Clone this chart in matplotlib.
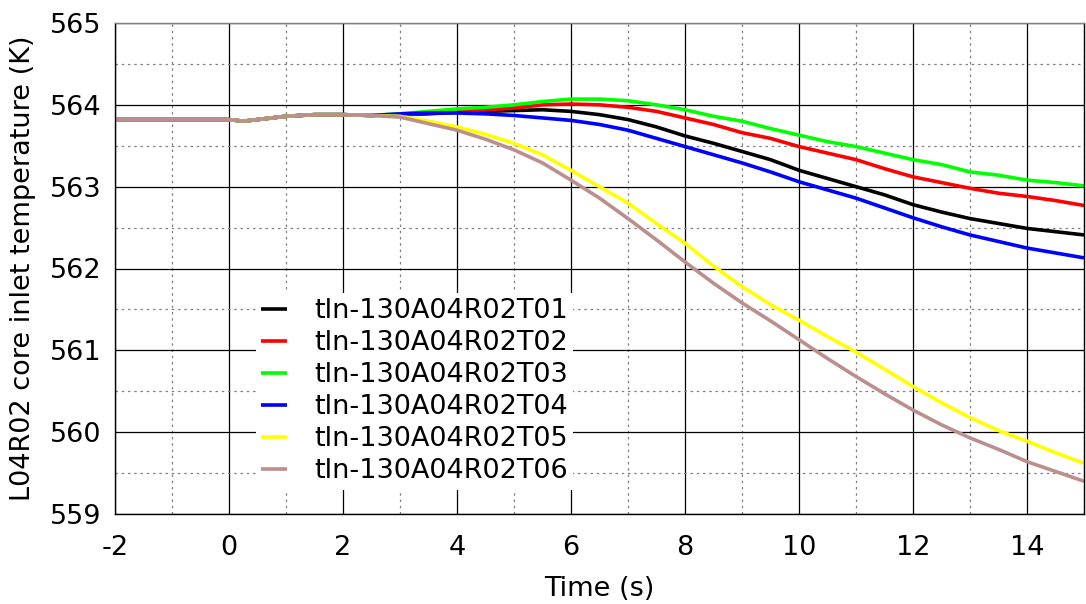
import matplotlib
matplotlib.use("Agg")
import matplotlib.pyplot as plt
from matplotlib.ticker import MultipleLocator

# time axis (s)
time = [-2, -1, 0, 0.25, 0.5, 1, 1.5, 2, 2.5, 3, 3.5, 4, 4.5, 5, 5.5, 6, 6.5, 7,
        7.5, 8, 8.5, 9, 9.5, 10, 10.5, 11, 11.5, 12, 12.5, 13, 13.5, 14, 14.5, 15]

# shared start of all runs (-2 .. 2.5 s)
start = [563.82, 563.82, 563.82, 563.80, 563.82, 563.86, 563.88, 563.88, 563.87]

# core inlet temperature (K) from 3 s on
t01 = [563.88, 563.89, 563.91, 563.92, 563.93, 563.94, 563.92, 563.88, 563.82, 563.73,
       563.62, 563.53, 563.43, 563.33, 563.20, 563.10, 563.00, 562.90, 562.78, 562.69,
       562.61, 562.55, 562.49, 562.45, 562.41]
t02 = [563.88, 563.90, 563.92, 563.94, 563.96, 564.00, 564.01, 564.00, 563.97, 563.92,
       563.84, 563.76, 563.66, 563.59, 563.49, 563.41, 563.33, 563.22, 563.12, 563.05,
       562.98, 562.92, 562.88, 562.83, 562.77]
t03 = [563.89, 563.92, 563.95, 563.97, 564.00, 564.04, 564.07, 564.07, 564.05, 564.00,
       563.94, 563.86, 563.80, 563.71, 563.63, 563.55, 563.49, 563.41, 563.33, 563.27,
       563.18, 563.14, 563.08, 563.05, 563.01]
t04 = [563.89, 563.90, 563.90, 563.89, 563.87, 563.84, 563.81, 563.76, 563.69, 563.59,
       563.49, 563.39, 563.29, 563.18, 563.06, 562.96, 562.86, 562.74, 562.62, 562.51,
       562.41, 562.33, 562.25, 562.19, 562.13]
t05 = [563.86, 563.80, 563.73, 563.64, 563.53, 563.39, 563.20, 563.00, 562.80, 562.55,
       562.31, 562.03, 561.78, 561.56, 561.37, 561.17, 560.98, 560.77, 560.56, 560.36,
       560.18, 560.02, 559.89, 559.75, 559.62]
t06 = [563.85, 563.77, 563.69, 563.58, 563.45, 563.29, 563.08, 562.86, 562.61, 562.35,
       562.08, 561.82, 561.58, 561.36, 561.13, 560.90, 560.68, 560.47, 560.27, 560.09,
       559.93, 559.79, 559.64, 559.52, 559.40]

labels = ["tln-130A04R02T01", "tln-130A04R02T02", "tln-130A04R02T03",
          "tln-130A04R02T04", "tln-130A04R02T05", "tln-130A04R02T06"]
colors = ["black", "#ff0000", "#00ff00", "#0000ff", "#ffff00", "#bc8f8f"]
runs = [t01, t02, t03, t04, t05, t06]

plt.rcParams['font.family'] = ['DejaVu Sans']
plt.rcParams['axes.unicode_minus'] = False
fs = 19.5

fig = plt.figure(figsize=(10.86, 6.04), dpi=100)
ax = fig.add_axes([115/1086, 1 - 514/604, (1084 - 115)/1086, (514 - 23)/604])

for lab, col, vals in zip(labels, colors, runs):
    ax.plot(time, start + vals, color=col, lw=2.6, label=lab, solid_capstyle='butt')

ax.set_xlim(-2, 15)
ax.set_ylim(559, 565)
ax.xaxis.set_major_locator(MultipleLocator(2))
ax.xaxis.set_minor_locator(MultipleLocator(1))
ax.yaxis.set_major_locator(MultipleLocator(1))
ax.yaxis.set_minor_locator(MultipleLocator(0.5))
ax.grid(which='major', color='black', lw=0.9, ls='-')
ax.grid(which='minor', color='#808080', lw=0.9, ls=(0, (2, 3)))
ax.set_axisbelow(True)
ax.tick_params(which='both', length=0, labelsize=fs)
ax.tick_params(axis='y', pad=10)
ax.tick_params(axis='x', pad=15)
for s in ax.spines.values():
    s.set_color('black')
    s.set_linewidth(1.0)
ax.spines['top'].set_color('#808080')

ax.set_xlabel("Time (s)", fontsize=fs, labelpad=11)
ax.set_ylabel("L04R02 core inlet temperature (K)", fontsize=fs, labelpad=10)

leg = ax.legend(loc='upper left', bbox_to_anchor=(256/1086, 1 - 293/604),
                bbox_transform=fig.transFigure, fontsize=fs, frameon=True,
                fancybox=False, edgecolor='none', facecolor='white', framealpha=1,
                handlelength=0.95, handletextpad=1.0, labelspacing=0.22,
                borderpad=0.2, borderaxespad=0)

fig.savefig("out.png", dpi=100, facecolor='white')
